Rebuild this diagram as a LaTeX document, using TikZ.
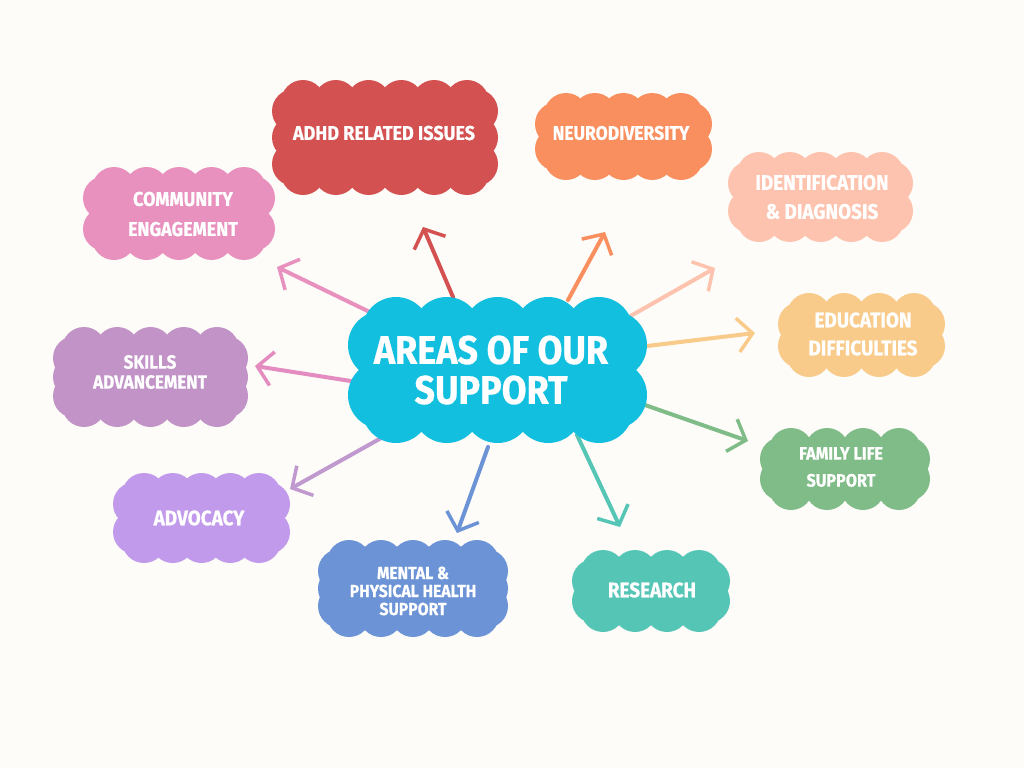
\documentclass[tikz,border=0pt]{standalone}
\usepackage{fontspec}
\newfontfamily\cloudfont{Fira Sans}[FakeStretch=0.9, BoldFeatures={FakeBold=0.6}]
\usetikzlibrary{arrows.meta}
\definecolor{bg}{HTML}{FDFCF8}
\definecolor{cCenter}{HTML}{12BFDF}
\definecolor{cRed}{HTML}{D45151}
\definecolor{cOrange}{HTML}{F98F5F}
\definecolor{cPeach}{HTML}{FEC3AE}
\definecolor{cEdu}{HTML}{F9CB8A}
\definecolor{cGreen}{HTML}{7FBC87}
\definecolor{cTeal}{HTML}{55C5B6}
\definecolor{cBlue}{HTML}{6B93D6}
\definecolor{cViolet}{HTML}{C29AEC}
\definecolor{cMauve}{HTML}{C193C6}
\definecolor{cPink}{HTML}{E891BE}
\definecolor{cSkillArrow}{HTML}{E48BC0}
\definecolor{cAdvArrow}{HTML}{C09ACF}
% x0 y0 x1 y1 radius colour xstep ystep ; corner inset via \cInset
\newcommand\cInset{10}
\newcommand\cloudfill[8]{%
  \pgfmathsetmacro\cA{#1+#5}%
  \pgfmathsetmacro\cB{#2+#5}%
  \pgfmathsetmacro\cC{#3-#5}%
  \pgfmathsetmacro\cD{#4-#5}%
  \pgfmathsetmacro\cAi{\cA+\cInset}%
  \pgfmathsetmacro\cBi{\cB+\cInset}%
  \pgfmathsetmacro\cCi{\cC-\cInset}%
  \pgfmathsetmacro\cDi{\cD-\cInset}%
  \pgfmathtruncatemacro\cNx{max(1,round((\cCi-\cAi)/#7))}%
  \pgfmathtruncatemacro\cNy{max(1,round((\cDi-\cBi)/#8))}%
  \fill[#6] (\cA,\cB) rectangle (\cC,\cD);
  \foreach \i in {0,...,\cNx}{\fill[#6] ({\cAi+(\cCi-\cAi)*\i/\cNx},\cB) circle[radius=#5pt] ({\cAi+(\cCi-\cAi)*\i/\cNx},\cD) circle[radius=#5pt];}
  \foreach \i in {0,...,\cNy}{\fill[#6] (\cA,{\cBi+(\cDi-\cBi)*\i/\cNy}) circle[radius=#5pt] (\cC,{\cBi+(\cDi-\cBi)*\i/\cNy}) circle[radius=#5pt];}
}
\tikzset{
  lbl/.style 2 args={text=white, align=center, inner sep=0pt, font=\cloudfont\bfseries\fontsize{#1}{#2}\selectfont},
  conn/.style={line width=4pt, line cap=round, -{Straight Barb[length=15pt,width=34pt,line width=3.5pt]}}
}
\begin{document}
\begin{tikzpicture}[x=1pt,y=-1pt]
\fill[bg] (0,0) rectangle (1024,768);
\useasboundingbox (0,0) rectangle (1024,768);
% connector end points
\coordinate (s-com) at (378,316); \coordinate (t-com) at (277,267);
\coordinate (s-adhd) at (453,297); \coordinate (t-adhd) at (423,227);
\coordinate (s-neu) at (568,300); \coordinate (t-neu) at (605,232);
\coordinate (s-ide) at (620,322); \coordinate (t-ide) at (715,268);
\coordinate (s-edu) at (647,346); \coordinate (t-edu) at (755,333);
\coordinate (s-fam) at (645,405); \coordinate (t-fam) at (748,441);
\coordinate (s-res) at (577,435); \coordinate (t-res) at (620,527);
\coordinate (s-men) at (488,447); \coordinate (t-men) at (457,533);
\coordinate (s-adv) at (383,437); \coordinate (t-adv) at (290,489);
\coordinate (s-ski) at (357,382); \coordinate (t-ski) at (255,366);
\draw[conn, cPink] (s-com) -- (t-com);
\draw[conn, cRed] (s-adhd) -- (t-adhd);
\draw[conn, cOrange] (s-neu) -- (t-neu);
\draw[conn, cPeach] (s-ide) -- (t-ide);
\draw[conn, cEdu] (s-edu) -- (t-edu);
\draw[conn, cGreen] (s-fam) -- (t-fam);
\draw[conn, cTeal] (s-res) -- (t-res);
\draw[conn, cBlue] (s-men) -- (t-men);
\draw[conn, cAdvArrow] (s-adv) -- (t-adv);
\draw[conn, cSkillArrow] (s-ski) -- (t-ski);
% clouds
\renewcommand\cInset{14}
\cloudfill{348}{297}{647}{443}{34}{cCenter}{50}{36}
\renewcommand\cInset{9}
\cloudfill{272}{80}{498}{195}{22}{cRed}{32}{22}
\cloudfill{535}{93}{712}{180}{22}{cOrange}{32}{20}
\cloudfill{728}{152}{913}{242}{22}{cPeach}{32}{20}
\cloudfill{778}{293}{945}{377}{22}{cEdu}{32}{20}
\cloudfill{760}{428}{930}{510}{22}{cGreen}{32}{20}
\cloudfill{572}{550}{730}{632}{22}{cTeal}{32}{20}
\cloudfill{318}{540}{508}{637}{22}{cBlue}{32}{22}
\cloudfill{113}{473}{290}{563}{22}{cViolet}{32}{20}
\cloudfill{53}{327}{248}{427}{22}{cMauve}{32}{22}
\cloudfill{83}{167}{275}{260}{22}{cPink}{32}{22}
% labels
\node[lbl={40}{40}] (center) at (491,370) {AREAS OF OUR\\SUPPORT};
\node[lbl={20}{28}] (adhd) at (384,133) {ADHD RELATED ISSUES};
\node[lbl={19.5}{28}] (neu) at (621,133) {NEURODIVERSITY};
\node[lbl={21}{29}] (ide) at (822,197) {IDENTIFICATION\\\& DIAGNOSIS};
\node[lbl={21}{28}] (edu) at (863,334) {EDUCATION\\DIFFICULTIES};
\node[lbl={18}{27}] (fam) at (841,467) {FAMILY LIFE\\SUPPORT};
\node[lbl={21}{28}] (res) at (652,590) {RESEARCH};
\node[lbl={17.5}{18}] (men) at (413,591) {MENTAL \&\\PHYSICAL HEALTH\\SUPPORT};
\node[lbl={21}{28}] (adv) at (199,518) {ADVOCACY};
\node[lbl={19}{20}] (ski) at (150,372) {SKILLS\\ADVANCEMENT};
\node[lbl={20}{30}] (com) at (183,214) {COMMUNITY\\ENGAGEMENT};
\end{tikzpicture}
\end{document}
